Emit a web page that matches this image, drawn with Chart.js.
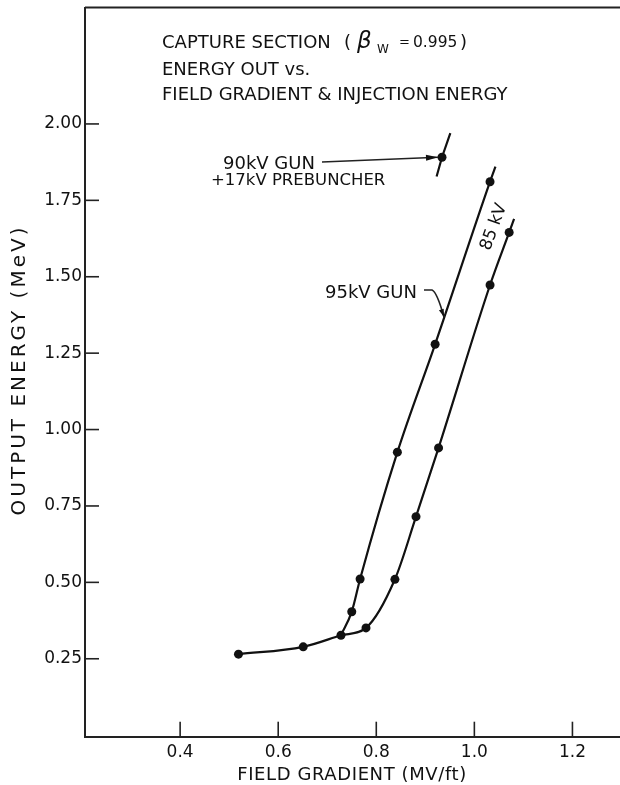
<!DOCTYPE html>
<html>
<head>
<meta charset="utf-8">
<script src="https://cdn.jsdelivr.net/npm/chart.js@4.4.1/dist/chart.umd.min.js"></script>
<style>
  html, body { margin:0; padding:0; background:#fff; }
  canvas { display:block; }
</style>
</head>
<body>
<canvas id="chart" width="620" height="785"></canvas>
<script>
/* capture section: output energy vs field gradient */

// tick labels
const xTickValues = [0.4, 0.6, 0.8, 1.0, 1.2];
const yTickValues = [0.25, 0.50, 0.75, 1.00, 1.25, 1.50, 1.75, 2.00];

// common low-gradient part of both curves (ends at the branch point)
const sharedX = [0.519, 0.651, 0.728];
const sharedY = [0.265, 0.289, 0.327];

// 95 kV gun branch (left curve); the End values are where the drawn line stops
const gun95X = [0.750, 0.767, 0.843, 0.920, 1.032];
const gun95Y = [0.404, 0.511, 0.926, 1.279, 1.811];
const gun95EndX = [1.043];
const gun95EndY = [1.860];

// 85 kV branch (right curve)
const gun85X = [0.779, 0.838, 0.881, 0.927, 1.032, 1.071];
const gun85Y = [0.351, 0.510, 0.715, 0.940, 1.473, 1.645];
const gun85EndX = [1.081];
const gun85EndY = [1.689];

// 90 kV gun + 17 kV prebuncher: one measured point with a short stroke through it
const prebunchX = [0.923, 0.934, 0.951];
const prebunchY = [1.828, 1.891, 1.970];
const prebunchDot = 1; // index of the measured point

const FONT = '"DejaVu Sans", sans-serif';
const INK = '#111';

const zip = (xs, ys) => xs.map((v, i) => ({ x: v, y: ys[i] }));

const last = arr => arr[arr.length - 1];
const lineShared = zip(sharedX, sharedY);
const line95 = zip([last(sharedX), ...gun95X, ...gun95EndX], [last(sharedY), ...gun95Y, ...gun95EndY]);
const line85 = zip([last(sharedX), ...gun85X, ...gun85EndX], [last(sharedY), ...gun85Y, ...gun85EndY]);
const linePre = zip(prebunchX, prebunchY);
const dots = [
  ...zip(sharedX, sharedY),
  ...zip(gun95X, gun95Y),
  ...zip(gun85X, gun85Y),
  { x: prebunchX[prebunchDot], y: prebunchY[prebunchDot] }
];

function txt(ctx, s, x, y, size, opts = {}) {
  ctx.save();
  ctx.font = (opts.style || '') + ' ' + size + 'px ' + FONT;
  ctx.fillStyle = INK;
  ctx.textAlign = opts.align || 'left';
  ctx.textBaseline = 'middle';
  if ('letterSpacing' in ctx) ctx.letterSpacing = (opts.spacing || 0) + 'px';
  ctx.translate(x, y);
  if (opts.rot) ctx.rotate(opts.rot);
  ctx.fillText(s, 0, 0);
  ctx.restore();
}

function arrowHead(ctx, x0, y0, x1, y1, len, half) {
  const a = Math.atan2(y1 - y0, x1 - x0);
  ctx.beginPath();
  ctx.moveTo(x1, y1);
  ctx.lineTo(x1 - len * Math.cos(a) + half * Math.sin(a), y1 - len * Math.sin(a) - half * Math.cos(a));
  ctx.lineTo(x1 - len * Math.cos(a) - half * Math.sin(a), y1 - len * Math.sin(a) + half * Math.cos(a));
  ctx.closePath();
  ctx.fill();
}

const decor = {
  id: 'decor',
  afterDraw(chart) {
    const { ctx, chartArea: a, scales: { x, y } } = chart;
    const px = v => x.getPixelForValue(v), py = v => y.getPixelForValue(v);
    ctx.save();
    ctx.strokeStyle = '#222';
    ctx.fillStyle = INK;

    // frame top
    ctx.lineWidth = 2;
    ctx.beginPath(); ctx.moveTo(a.left, a.top); ctx.lineTo(a.right, a.top); ctx.stroke();

    // tick marks point into the plot
    ctx.lineWidth = 1.6;
    yTickValues.forEach(v => {
      ctx.beginPath(); ctx.moveTo(a.left, py(v)); ctx.lineTo(a.left + 14, py(v)); ctx.stroke();
    });
    xTickValues.forEach(v => {
      ctx.beginPath(); ctx.moveTo(px(v), a.bottom); ctx.lineTo(px(v), a.bottom - 15); ctx.stroke();
    });

    // axis titles
    txt(ctx, 'FIELD GRADIENT (MV/ft)', 352, 775, 18, { align: 'center', spacing: 0.6 });
    txt(ctx, 'OUTPUT ENERGY (MeV)', 20, 370, 20, { align: 'center', spacing: 3, rot: -Math.PI / 2 });

    // heading block
    txt(ctx, 'CAPTURE SECTION', 162, 43, 18);
    txt(ctx, '(', 344, 43, 18);
    txt(ctx, 'β', 357, 42, 23, { style: 'italic' });
    txt(ctx, 'W', 377, 50, 12);
    txt(ctx, '=', 399, 43, 13);
    txt(ctx, '0.995', 413, 43, 15.5);
    txt(ctx, ')', 460, 43, 18);
    txt(ctx, 'ENERGY OUT vs.', 162, 70, 18);
    txt(ctx, 'FIELD GRADIENT & INJECTION ENERGY', 162, 95, 18);

    // 90 kV gun label + arrow to its point
    txt(ctx, '90kV GUN', 223, 164, 18);
    txt(ctx, '+17kV PREBUNCHER', 211, 181, 16.5);
    const ax0 = 322, ay0 = 162;
    const ax1 = px(prebunchX[prebunchDot]) - 4, ay1 = py(prebunchY[prebunchDot]);
    ctx.lineWidth = 1.6;
    ctx.beginPath(); ctx.moveTo(ax0, ay0); ctx.lineTo(ax1, ay1); ctx.stroke();
    arrowHead(ctx, ax0, ay0, ax1, ay1, 12, 3);

    // 95 kV gun label + curved leader onto the left curve
    txt(ctx, '95kV GUN', 325, 293, 18);
    const tipX = px(0.938), tipY = py(1.368);
    ctx.beginPath();
    ctx.moveTo(424, 290);
    ctx.lineTo(432, 290);
    ctx.quadraticCurveTo(437, 292, tipX, tipY);
    ctx.stroke();
    arrowHead(ctx, 438, 300, tipX, tipY, 8, 2.5);

    // 85 kV along the right curve
    txt(ctx, '85 kV', 494, 227, 17, { align: 'center', rot: -70 * Math.PI / 180 });

    ctx.restore();
  }
};

const lineStyle = { type: 'line', borderColor: INK, borderWidth: 2.2, pointRadius: 0, cubicInterpolationMode: 'monotone', fill: false };

new Chart(document.getElementById('chart'), {
  data: {
    datasets: [
      { ...lineStyle, data: lineShared },
      { ...lineStyle, data: line95 },
      { ...lineStyle, data: line85 },
      { ...lineStyle, data: linePre, cubicInterpolationMode: 'default', tension: 0 },
      { type: 'scatter', data: dots, pointRadius: 4.5, pointBackgroundColor: INK, pointBorderWidth: 0, pointHoverRadius: 4.5 }
    ]
  },
  options: {
    responsive: false,
    animation: false,
    devicePixelRatio: 1,
    layout: { autoPadding: false, padding: { top: 7.5, right: 0, left: 0, bottom: 0 } },
    plugins: { legend: { display: false }, tooltip: { enabled: false } },
    scales: {
      x: {
        type: 'linear', min: 0.206, max: 1.297,
        grid: { display: false, drawTicks: false },
        border: { display: true, color: '#222', width: 2 },
        ticks: { autoSkip: false, color: INK, padding: 6, font: { family: FONT, size: 17 }, callback: v => v.toFixed(1) },
        afterBuildTicks: s => { s.ticks = xTickValues.map(v => ({ value: v })); },
        afterFit: s => { s.height = 48.3; s.paddingLeft = 0; s.paddingRight = 0; }
      },
      y: {
        type: 'linear', min: -0.005, max: 2.381,
        grid: { display: false, drawTicks: false },
        border: { display: true, color: '#222', width: 2 },
        ticks: { autoSkip: false, color: INK, padding: 3, font: { family: FONT, size: 17 }, callback: v => v.toFixed(2) },
        afterBuildTicks: s => { s.ticks = yTickValues.map(v => ({ value: v })); },
        afterFit: s => { s.width = 85; s.paddingTop = 0; s.paddingBottom = 0; }
      }
    }
  },
  plugins: [decor]
});
</script>
</body>
</html>
